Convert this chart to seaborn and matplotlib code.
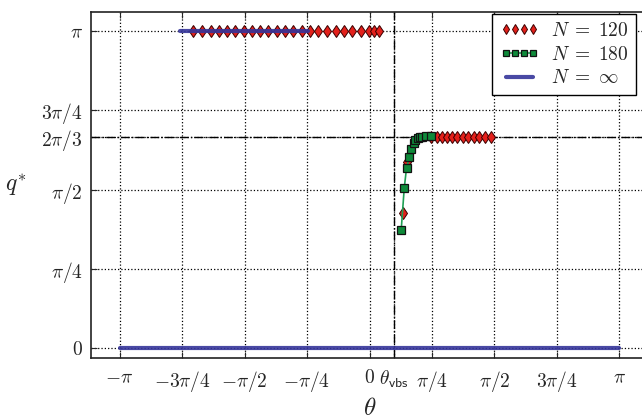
import numpy as np
import pandas as pd
import matplotlib
matplotlib.use("Agg")
import matplotlib.pyplot as plt
import seaborn as sns

# values
theta_vbs = 0.31

# N = 120 (red diamonds)
n120_x = [-2.214, -2.101, -1.998, -1.891, -1.791, -1.686, -1.583, -1.480, -1.376, -1.272,
          -1.166, -1.062, -0.958, -0.852, -0.747, -0.641, -0.530, -0.425, -0.320, -0.216,
          -0.111, -0.006, 0.057, 0.119,
          0.417, 0.475,
          0.773, 0.844, 0.907, 0.970, 1.033, 1.103, 1.171, 1.242, 1.313, 1.380, 1.451, 1.527]
n120_y = [np.pi] * 24 + [1.335, 1.846] + [2 * np.pi / 3] * 12

# N = 180 (green squares)
n180_x = [0.398, 0.437, 0.466, 0.500, 0.525, 0.553, 0.578, 0.608, 0.637, 0.666, 0.708, 0.773]
n180_y = [1.166, 1.589, 1.787, 1.890, 1.969, 2.029, 2.061, 2.078, 2.088, 2.094, 2.098, 2.100]

# N = infinity (blue lines)
inf_top_x = [-2.38, -0.77]
inf_top_y = [np.pi, np.pi]
inf_bot_x = [-np.pi, np.pi]
inf_bot_y = [0.0, 0.0]

xticks = [-np.pi, -3 * np.pi / 4, -np.pi / 2, -np.pi / 4, 0, theta_vbs,
          np.pi / 4, np.pi / 2, 3 * np.pi / 4, np.pi]
xticklabels = [r"$-\pi$", r"$-3\pi/4$", r"$-\pi/2$", r"$-\pi/4$", r"$0$",
               r"$\theta_{\mathsf{vbs}}$", r"$\pi/4$", r"$\pi/2$", r"$3\pi/4$", r"$\pi$"]
yticks = [0, np.pi / 4, np.pi / 2, 2 * np.pi / 3, 3 * np.pi / 4, np.pi]
yticklabels = [r"$0$", r"$\pi/4$", r"$\pi/2$", r"$2\pi/3$", r"$3\pi/4$", r"$\pi$"]

sns.set_style("ticks")
plt.rcParams["mathtext.fontset"] = "cm"
plt.rcParams["font.family"] = ["DejaVu Serif"]

fig = plt.figure(figsize=(6.42, 4.2), dpi=100)
ax = fig.add_axes([91 / 642, 62 / 420, 557 / 642, 346 / 420])

df120 = pd.DataFrame({"x": n120_x, "y": n120_y})
df180 = pd.DataFrame({"x": n180_x, "y": n180_y})

sns.lineplot(data=df120, x="x", y="y", ax=ax, linestyle="none", marker="d",
             markersize=6, markerfacecolor="#e3201b", markeredgecolor="#3a0000",
             markeredgewidth=0.7, color="#e3201b", label=r"$N\;=\;120$", zorder=3)
sns.lineplot(data=df180, x="x", y="y", ax=ax, color="#1fa055", linewidth=1.2,
             marker="s", markersize=6, markerfacecolor="#0e8a3a",
             markeredgecolor="#111111", markeredgewidth=0.9,
             label=r"$N\;=\;180$", zorder=4)
sns.lineplot(x=inf_top_x, y=inf_top_y, ax=ax, color="#35359a", linewidth=3.0,
             alpha=0.9, label=r"$N\;=\;\infty$", zorder=5)
sns.lineplot(x=inf_bot_x, y=inf_bot_y, ax=ax, color="#35359a", linewidth=3.0,
             alpha=0.9, zorder=5)

ax.axvline(theta_vbs, color="black", linestyle="-.", linewidth=1.0, zorder=2)
ax.axhline(2 * np.pi / 3, color="black", linestyle="-.", linewidth=1.0, zorder=2)

ax.set_xlim(-3.5, 3.5)
ax.set_ylim(-0.099, 3.33)
ax.set_xticks(xticks)
ax.set_xticklabels(xticklabels, fontsize=14)
ax.set_yticks(yticks)
ax.set_yticklabels(yticklabels, fontsize=14)
ax.tick_params(direction="in", top=True, right=True, length=4, width=0.8)
ax.tick_params(axis="x", pad=8)
ax.tick_params(axis="y", pad=6)
ax.grid(True, color="black", linestyle=":", linewidth=0.9)
for s in ax.spines.values():
    s.set_linewidth(1.2)
    s.set_color("#222222")

ax.set_xlabel(r"$\theta$", fontsize=18, labelpad=2)
ax.set_ylabel(r"$q^{*}$", fontsize=17, rotation=0, labelpad=18, va="center")

leg = ax.legend(loc="upper right", bbox_to_anchor=(636 / 642, 1 - 14 / 420),
                bbox_transform=fig.transFigure, borderaxespad=0, numpoints=4,
                fontsize=14, frameon=True, fancybox=False, edgecolor="black",
                framealpha=1, handlelength=2.0, borderpad=0.4, labelspacing=0.3,
                handletextpad=0.6)
leg.get_frame().set_linewidth(1.0)
for h in leg.legend_handles:
    if h.get_marker() == "d":
        h.set_markersize(5.5)
    elif h.get_marker() == "s":
        h.set_markersize(5)

fig.savefig("out.png", dpi=100)
